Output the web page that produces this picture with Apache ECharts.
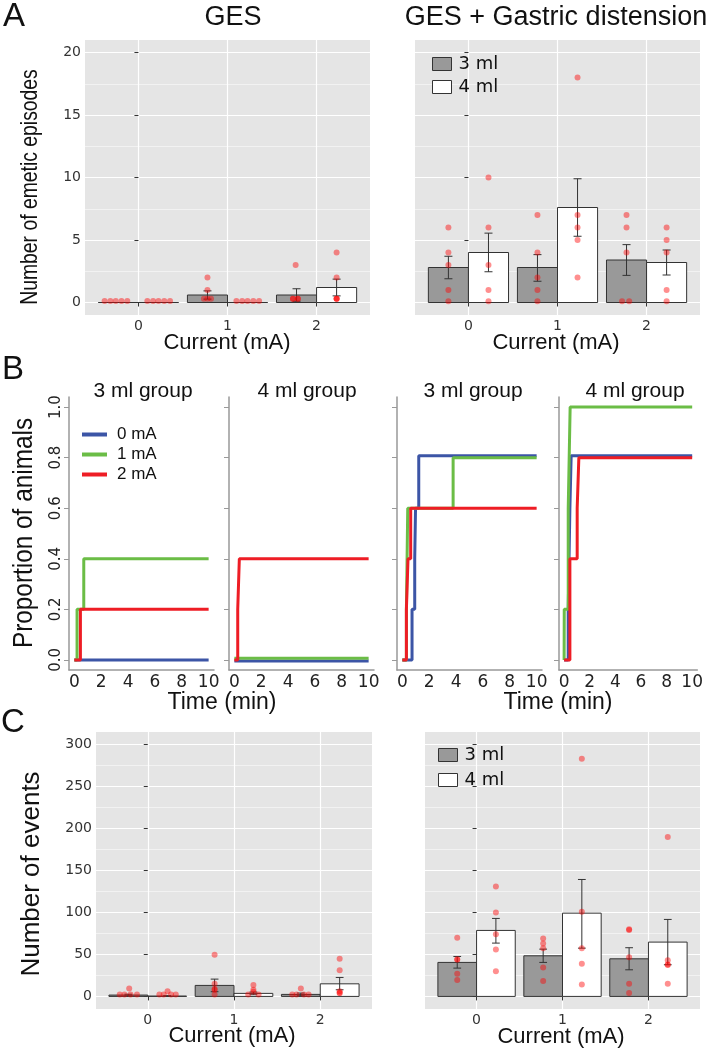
<!DOCTYPE html>
<html>
<head>
<meta charset="utf-8">
<script src="https://cdn.jsdelivr.net/npm/echarts@6/dist/echarts.min.js"></script>
<style>
html, body { margin: 0; padding: 0; background: #fff; }
#main { width: 706px; height: 1050px; }
</style>
</head>
<body>
<div id="main"></div>
<script>
// ---------- data ----------
var currents = [0, 1, 2];

// A: number of emetic episodes, GES alone
var emGesMean3 = [0, 0.6, 0.6];
var emGesMean4 = [0, 0, 1.2];
var emGesErr3 = [[0, 0], [0.27, 0.93], [0.1, 1.1]];
var emGesErr4 = [[0, 0], [0, 0], [0.53, 1.87]];
var emGesPts3 = [[0.12, 0.12, 0.12, 0.12, 0.12], [2, 1, 0.3, 0.3, 0.3], [3, 0.3, 0.3, 0.3, 0.3]];
var emGesPts4 = [[0.12, 0.12, 0.12, 0.12, 0.12], [0.12, 0.12, 0.12, 0.12, 0.12], [4, 2, 0.3, 0.3, 0.3]];
var emGesJit3 = [[-0.155, -0.09, -0.03, 0.035, 0.1], [0, 0, -0.04, 0, 0.04], [-0.01, -0.04, 0.015, -0.04, 0.015]];
var emGesJit4 = [[-0.125, -0.06, 0, 0.065, 0.13], [-0.125, -0.06, 0, 0.065, 0.13], [0, 0, 0, 0, 0]];

// A: GES + gastric distension
var emDisMean3 = [2.8, 2.8, 3.4];
var emDisMean4 = [4.0, 7.6, 3.2];
var emDisErr3 = [[1.9, 3.7], [1.7, 3.83], [2.17, 4.63]];
var emDisErr4 = [[2.46, 5.55], [5.3, 9.9], [2.2, 4.2]];
var emDisPts3 = [[6, 4, 3, 1, 0.1], [7, 4, 2, 1, 0.1], [7, 6, 4, 0.1, 0.1]];
var emDisPts4 = [[10, 6, 3, 1, 0.1], [18, 7, 6, 5, 2], [6, 5, 4, 1, 0.1]];
var emDisJit3 = [[0, 0, 0, 0, 0], [0, 0, 0, 0, 0], [0, 0, 0, -0.05, 0.03]];
var emDisJit4 = [[0, 0, 0, 0, 0], [0, 0, 0, 0, 0], [0, 0, 0, 0, 0]];

// B: proportion of animals (step curves, [time, proportion])
var b1Blue = [[0, 0], [10, 0]];
var b1Green = [[0, 0], [0.2, 0.2], [0.7, 0.4], [10, 0.4]];
var b1Red = [[0, 0], [0.45, 0.2], [10, 0.2]];
var b2Blue = [[0, -0.004], [10, -0.004]];
var b2Green = [[0, 0.006], [10, 0.006]];
var b2Red = [[0, 0], [0.25, 0.2], [0.37, 0.4], [10, 0.4]];
var b3Blue = [[0, 0], [0.72, 0.2], [0.92, 0.4], [0.98, 0.6], [1.22, 0.808], [10, 0.808]];
var b3Green = [[0, 0], [0.3, 0.2], [0.35, 0.4], [0.4, 0.6], [3.78, 0.8], [10, 0.8]];
var b3Red = [[0, 0], [0.3, 0.2], [0.42, 0.4], [0.62, 0.6], [10, 0.6]];
var b4Blue = [[0, 0], [0.32, 0.2], [0.45, 0.6], [0.55, 0.808], [10, 0.808]];
var b4Green = [[0, 0], [0.01, 0.2], [0.32, 0.6], [0.47, 1.0], [10, 1.0]];
var b4Red = [[0, 0], [0.45, 0.4], [1.02, 0.6], [1.15, 0.8], [10, 0.8]];
var timeTicks = [0, 2, 4, 6, 8, 10];
var propTicks = [0, 0.2, 0.4, 0.6, 0.8, 1.0];

// C: number of events, GES alone
var evGesMean3 = [1.6, 13.1, 2.4];
var evGesMean4 = [0.4, 3.6, 15];
var evGesErr3 = [[0.6, 2.6], [5.6, 20.6], [0.8, 4.0]];
var evGesErr4 = [[0, 0.8], [2.0, 5.2], [7.9, 22.6]];
var evGesPts3 = [[9.5, 2.4, 2.4, 2.4, 2.4], [49.5, 15, 8.7, 8, 2.4], [9.5, 2.4, 2.4, 2.4, 2.4]];
var evGesPts4 = [[6, 2.4, 2.4, 2.4, 2.4], [13.5, 8, 5.5, 2.4, 2.4], [45, 31.3, 6, 4, 4]];
var evGesJit3 = [[0.01, -0.1, -0.045, 0.025, 0.1], [0, 0, 0, 0, 0], [0, -0.1, -0.05, 0.035, 0.09]];
var evGesJit4 = [[0.005, -0.09, -0.04, 0.045, 0.1], [0, 0, 0, -0.06, 0.06], [0, 0, 0, 0, 0]];

// C: GES + gastric distension
var evDisMean3 = [40.5, 48.4, 44.8];
var evDisMean4 = [78.6, 99.2, 64.7];
var evDisErr3 = [[33.7, 47.6], [40.5, 56.3], [31.7, 58]];
var evDisErr4 = [[63.5, 92.9], [57.5, 139.3], [37.7, 91.7]];
var evDisPts3 = [[70, 44, 44, 27, 19.4], [69, 63, 57.5, 34.5, 18.3], [80, 79, 46.8, 15, 4]];
var evDisPts4 = [[131, 100, 74, 56, 30], [283, 100.8, 57.5, 38.9, 14.3], [190, 43, 38, 37.3, 15]];
var evDisJit = [[0, 0, 0, 0, 0], [0, 0, 0, 0, 0], [0, 0, 0, 0, 0]];

var emMajor = [0, 5, 10, 15, 20];
var emMinor = [2.5, 7.5, 12.5, 17.5];
var evMajor = [0, 50, 100, 150, 200, 250, 300];
var evMinor = [25, 75, 125, 175, 225, 275];

// ---------- helpers ----------
var BAR_W = 0.45;   // each bar is 0.45 category units wide (dodged)
var CAP = 0.045;    // half width of error bar caps
var TICK_FONT = 'DejaVu Sans, sans-serif';
var TITLE_FONT = 'Liberation Sans, Arial, sans-serif';

function barSeries(name, ax, means, side, color) {
  return {
    type: 'custom', name: name, xAxisIndex: ax, yAxisIndex: ax, z: 2,
    itemStyle: { color: color, borderColor: '#333', borderWidth: 1 },
    encode: { x: 0, y: 1 },
    data: currents.map(function (c, i) { return [c + side * BAR_W / 2, means[i]]; }),
    renderItem: function (params, api) {
      var x = api.value(0), v = api.value(1);
      var p0 = api.coord([x - BAR_W / 2, v]);
      var p1 = api.coord([x + BAR_W / 2, 0]);
      return {
        type: 'rect',
        shape: { x: p0[0], y: p0[1], width: p1[0] - p0[0], height: p1[1] - p0[1] },
        style: { fill: color, stroke: '#333', lineWidth: 1 }
      };
    }
  };
}

function errSeries(ax, errs, side) {
  return {
    type: 'custom', xAxisIndex: ax, yAxisIndex: ax, z: 3,
    encode: { x: 0, y: [1, 2] },
    data: currents.map(function (c, i) { return [c + side * BAR_W / 2, errs[i][0], errs[i][1]]; }),
    renderItem: function (params, api) {
      var x = api.value(0), lo = api.value(1), hi = api.value(2);
      var t = api.coord([x, hi]), b = api.coord([x, lo]);
      var tl = api.coord([x - CAP, hi]), tr = api.coord([x + CAP, hi]);
      var bl = api.coord([x - CAP, lo]), br = api.coord([x + CAP, lo]);
      var st = { stroke: '#333', lineWidth: 1 };
      return {
        type: 'group',
        children: [
          { type: 'line', shape: { x1: t[0], y1: t[1], x2: b[0], y2: b[1] }, style: st },
          { type: 'line', shape: { x1: tl[0], y1: tl[1], x2: tr[0], y2: tr[1] }, style: st },
          { type: 'line', shape: { x1: bl[0], y1: bl[1], x2: br[0], y2: br[1] }, style: st }
        ]
      };
    }
  };
}

function pointSeries(ax, pts, jit, side) {
  var data = [];
  currents.forEach(function (c, i) {
    pts[i].forEach(function (v, j) {
      data.push([c + side * BAR_W / 2 + jit[i][j], v]);
    });
  });
  return {
    type: 'scatter', xAxisIndex: ax, yAxisIndex: ax, z: 4,
    symbolSize: 6, itemStyle: { color: 'rgba(255,0,0,0.55)' },
    data: data
  };
}

var series = [];
function addBarPanel(ax, m3, m4, e3, e4, p3, p4, j3, j4) {
  series.push(barSeries('3 ml', ax, m3, -1, '#999999'));
  series.push(barSeries('4 ml', ax, m4, 1, '#ffffff'));
  series.push(errSeries(ax, e3, -1));
  series.push(errSeries(ax, e4, 1));
  series.push(pointSeries(ax, p3, j3, -1));
  series.push(pointSeries(ax, p4, j4, 1));
}

function stepLine(name, ax, data, color) {
  return {
    type: 'line', name: name, xAxisIndex: ax, yAxisIndex: ax, step: 'end',
    symbol: 'none', lineStyle: { color: color, width: 3 }, itemStyle: { color: color },
    data: data
  };
}
function addSteps(ax, blue, green, red) {
  series.push(stepLine('0 mA', ax, blue, '#3c55a6'));
  series.push(stepLine('1 mA', ax, green, '#6bbd46'));
  series.push(stepLine('2 mA', ax, red, '#ee1d25'));
}

addBarPanel(0, emGesMean3, emGesMean4, emGesErr3, emGesErr4, emGesPts3, emGesPts4, emGesJit3, emGesJit4);
addBarPanel(1, emDisMean3, emDisMean4, emDisErr3, emDisErr4, emDisPts3, emDisPts4, emDisJit3, emDisJit4);
addBarPanel(2, evGesMean3, evGesMean4, evGesErr3, evGesErr4, evGesPts3, evGesPts4, evGesJit3, evGesJit4);
addBarPanel(3, evDisMean3, evDisMean4, evDisErr3, evDisErr4, evDisPts3, evDisPts4, evDisJit, evDisJit);
addSteps(4, b1Blue, b1Green, b1Red);
addSteps(5, b2Blue, b2Green, b2Red);
addSteps(6, b3Blue, b3Green, b3Red);
addSteps(7, b4Blue, b4Green, b4Red);

// ---------- layout ----------
var grids = [
  { left: 85, top: 40, width: 285, height: 275 },
  { left: 415, top: 40, width: 285, height: 275 },
  { left: 96, top: 732, width: 276, height: 277 },
  { left: 425, top: 732, width: 275, height: 277 },
  { left: 69, top: 397, width: 145, height: 273 },
  { left: 229, top: 397, width: 145, height: 273 },
  { left: 397, top: 397, width: 145, height: 273 },
  { left: 559, top: 397, width: 145, height: 273 }
];
grids.forEach(function (g, i) {
  g.containLabel = false;
  if (i < 4) { g.show = true; g.backgroundColor = '#e5e5e5'; g.borderWidth = 0; }
});

var xAxes = [], yAxes = [], minorY = [];
[0, 1, 2, 3].forEach(function (i) {
  var isEm = i < 2;
  var yMin = isEm ? -1 : -15, yMax = isEm ? 21 : 315;
  var major = isEm ? emMajor : evMajor, minor = isEm ? emMinor : evMinor;
  xAxes.push({
    gridIndex: i, type: 'value', min: -0.6, max: 2.6,
    axisLine: { show: false },
    axisTick: { show: true, length: 4, customValues: currents, lineStyle: { color: '#333' } },
    axisLabel: { customValues: currents, fontFamily: TICK_FONT, fontSize: 14, color: '#333', margin: 4 },
    splitLine: { show: true, lineStyle: { color: '#ffffff', width: 1.2 } }
  });
  yAxes.push({
    gridIndex: i, type: 'value', min: yMin, max: yMax,
    axisLine: { show: false },
    axisTick: { show: true, length: 4, customValues: major, lineStyle: { color: '#333' } },
    axisLabel: { show: i % 2 === 0, customValues: major, fontFamily: TICK_FONT, fontSize: 14, color: '#333', margin: 4 },
    splitLine: { show: true, lineStyle: { color: '#ffffff', width: 1.2 } }
  });
  minorY.push({
    gridIndex: i, type: 'value', min: yMin, max: yMax, position: 'right',
    axisLine: { show: false },
    axisTick: { show: false, customValues: minor },
    axisLabel: { show: false, customValues: minor },
    splitLine: { show: true, lineStyle: { color: '#f2f2f2', width: 1 } }
  });
});
[4, 5, 6, 7].forEach(function (i) {
  xAxes.push({
    gridIndex: i, type: 'value', min: -0.4, max: 10.4,
    axisLine: { show: true, onZero: false, lineStyle: { color: '#999', width: 1.5 } },
    axisTick: { show: false, customValues: timeTicks },
    axisLabel: { customValues: timeTicks, fontFamily: TICK_FONT, fontSize: 17, color: '#222', margin: 4 },
    splitLine: { show: false }
  });
  yAxes.push({
    gridIndex: i, type: 'value', min: -0.04, max: 1.04,
    axisLine: { show: true, onZero: false, lineStyle: { color: '#999', width: 1.5 } },
    axisTick: { show: true, length: 5, customValues: propTicks, lineStyle: { color: '#999' } },
    axisLabel: {
      show: i === 4, rotate: 90, customValues: propTicks, fontFamily: TICK_FONT, fontSize: 15, color: '#222', margin: 5,
      formatter: function (v) { return v.toFixed(1); }
    },
    splitLine: { show: false }
  });
});
yAxes = yAxes.concat(minorY);

// ---------- texts ----------
function txt(text, x, y, size, opt) {
  opt = opt || {};
  return {
    type: 'text', x: x, y: y, rotation: opt.rot || 0, scaleX: opt.sx || 1, silent: true, z: 10,
    style: {
      text: text, fontFamily: opt.font || TITLE_FONT, fontSize: size, fill: '#111',
      align: 'center', verticalAlign: 'middle', textAlign: 'center', textVerticalAlign: 'middle'
    }
  };
}
var R = Math.PI / 2;
var graphics = [
  txt('A', 14, 17, 33),
  txt('B', 13, 370, 33),
  txt('C', 13, 723, 33),
  txt('GES', 233, 18, 27),
  txt('GES + Gastric distension', 556, 18, 27),
  txt('Number of emetic episodes', 30, 187, 24.5, { rot: R, sx: 0.79 }),
  txt('Current (mA)', 227, 343, 22),
  txt('Current (mA)', 556, 343, 22),
  txt('3 ml group', 143, 391, 21),
  txt('4 ml group', 307, 391, 21),
  txt('3 ml group', 473, 391, 21),
  txt('4 ml group', 635, 391, 21),
  txt('Proportion of animals', 24, 533, 28, { rot: R, sx: 0.87 }),
  txt('Time (min)', 222, 703, 23),
  txt('Time (min)', 558, 703, 23),
  txt('Number of events', 32, 874, 26, { rot: R }),
  txt('Current (mA)', 232, 1036, 22),
  txt('Current (mA)', 561, 1037, 22)
];

var barLegendItems = [
  { name: '3 ml', itemStyle: { color: '#999999', borderColor: '#333', borderWidth: 1 } },
  { name: '4 ml', itemStyle: { color: '#ffffff', borderColor: '#333', borderWidth: 1 } }
];
function barLegend(left, top, gap) {
  return {
    data: barLegendItems, left: left, top: top, orient: 'vertical', padding: 0,
    icon: 'rect', itemWidth: 19, itemHeight: 13, itemGap: gap, selectedMode: false,
    textStyle: { fontFamily: TICK_FONT, fontSize: 18, color: '#111', padding: [0, 0, 0, 2] }
  };
}

var option = {
  animation: false,
  backgroundColor: '#ffffff',
  grid: grids,
  xAxis: xAxes,
  yAxis: yAxes,
  legend: [
    barLegend(432, 55, 5),
    barLegend(438, 746, 7),
    {
      data: ['0 mA', '1 mA', '2 mA'], left: 82, top: 426, orient: 'vertical', padding: 0,
      icon: 'rect', itemWidth: 25, itemHeight: 4, itemGap: 3, selectedMode: false,
      textStyle: { fontFamily: TITLE_FONT, fontSize: 17, color: '#111', padding: [0, 0, 0, 5] }
    }
  ],
  graphic: graphics,
  series: series
};

var myChart = echarts.init(document.getElementById('main'));
myChart.setOption(option);
</script>
</body>
</html>
